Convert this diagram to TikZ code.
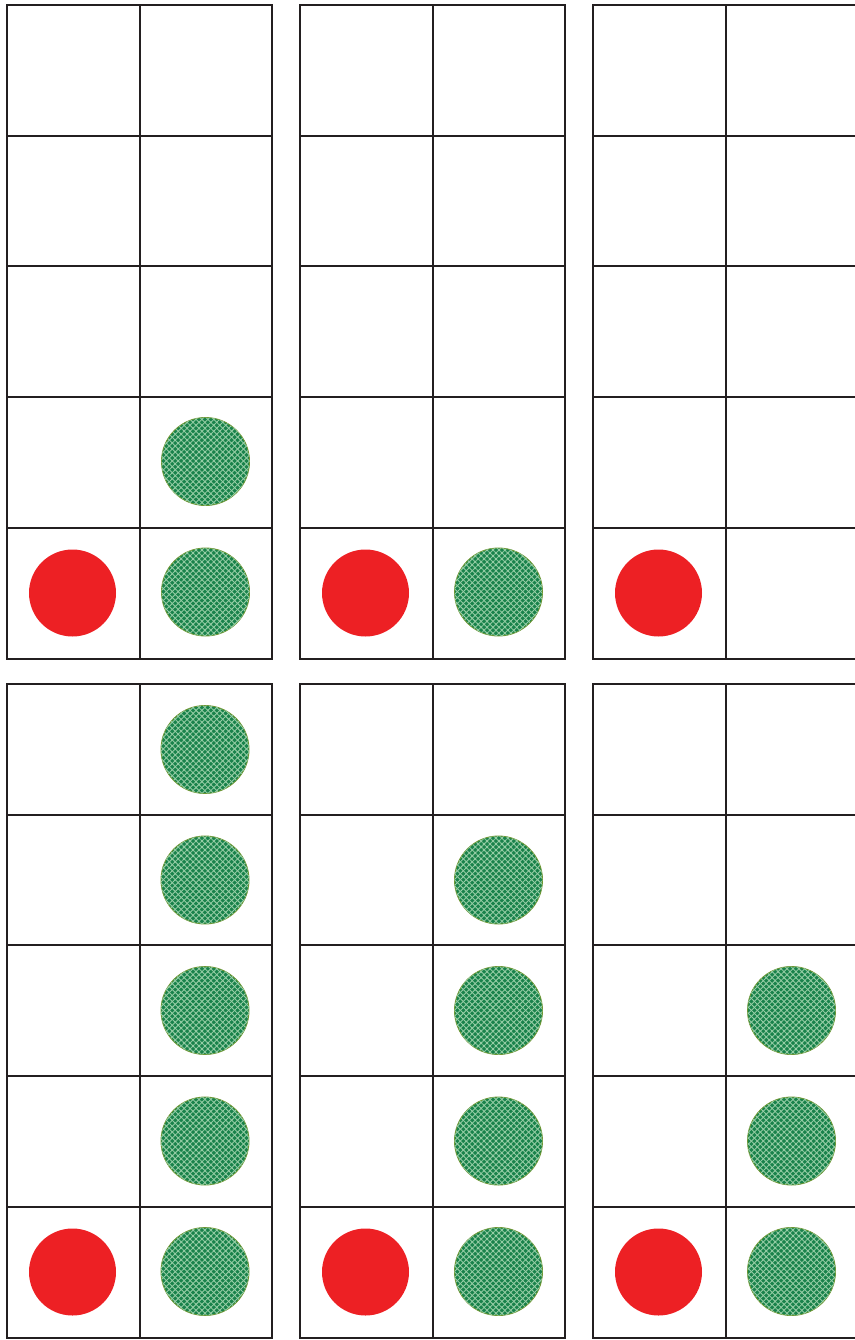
\documentclass[tikz,border=0pt]{standalone}
\usetikzlibrary{patterns.meta}
\definecolor{gridc}{RGB}{35,31,32}
\definecolor{redc}{RGB}{237,32,36}
\definecolor{greenc}{RGB}{25,130,75}
\definecolor{greenl}{RGB}{150,205,165}
\definecolor{greenb}{RGB}{110,150,50}
\tikzset{
  gridline/.style={draw=gridc, line width=2pt},
  redball/.style={circle, fill=redc, minimum size=87pt, inner sep=0pt},
  greenball/.style={circle, fill=greenc, draw=greenb, line width=0.9pt, minimum size=88pt, inner sep=0pt,
    postaction={pattern={Lines[angle=45,distance=4.2pt,line width=0.9pt]}, pattern color=greenl},
    postaction={pattern={Lines[angle=-45,distance=4.2pt,line width=0.9pt]}, pattern color=greenl}},
}
\begin{document}
\begin{tikzpicture}[x=1pt,y=-1pt]
\useasboundingbox (0,0) rectangle (854,1340);
\foreach \gx/\gi in {7/a,300/b,593/c}{
  \foreach \gy/\gj in {5/t,684/u}{
    \draw[gridline] (\gx,\gy) rectangle ++(265,653.5);
    \draw[gridline] (\gx+132.5,\gy) -- ++(0,653.5);
    \foreach \r in {1,2,3,4}{
      \draw[gridline] (\gx,\gy+130.7*\r) -- ++(265,0);
    }
    \node[redball] (r\gi\gj) at (\gx+65.5,\gy+588) {};
  }
}
% top row greens
\node[greenball] (gat4) at (205.5,461.5) {};
\node[greenball] (gat5) at (205.5,592) {};
\node[greenball] (gbt5) at (498.5,592) {};
% bottom row greens
\foreach \k/\yy in {1/749.5,2/880,3/1010.5,4/1141,5/1271.5}{
  \node[greenball] (gau\k) at (205,\yy) {};
}
\foreach \k/\yy in {2/880,3/1010.5,4/1141,5/1271.5}{
  \node[greenball] (gbu\k) at (498.5,\yy) {};
}
\foreach \k/\yy in {3/1010.5,4/1141,5/1271.5}{
  \node[greenball] (gcu\k) at (791.5,\yy) {};
}
\end{tikzpicture}
\end{document}
